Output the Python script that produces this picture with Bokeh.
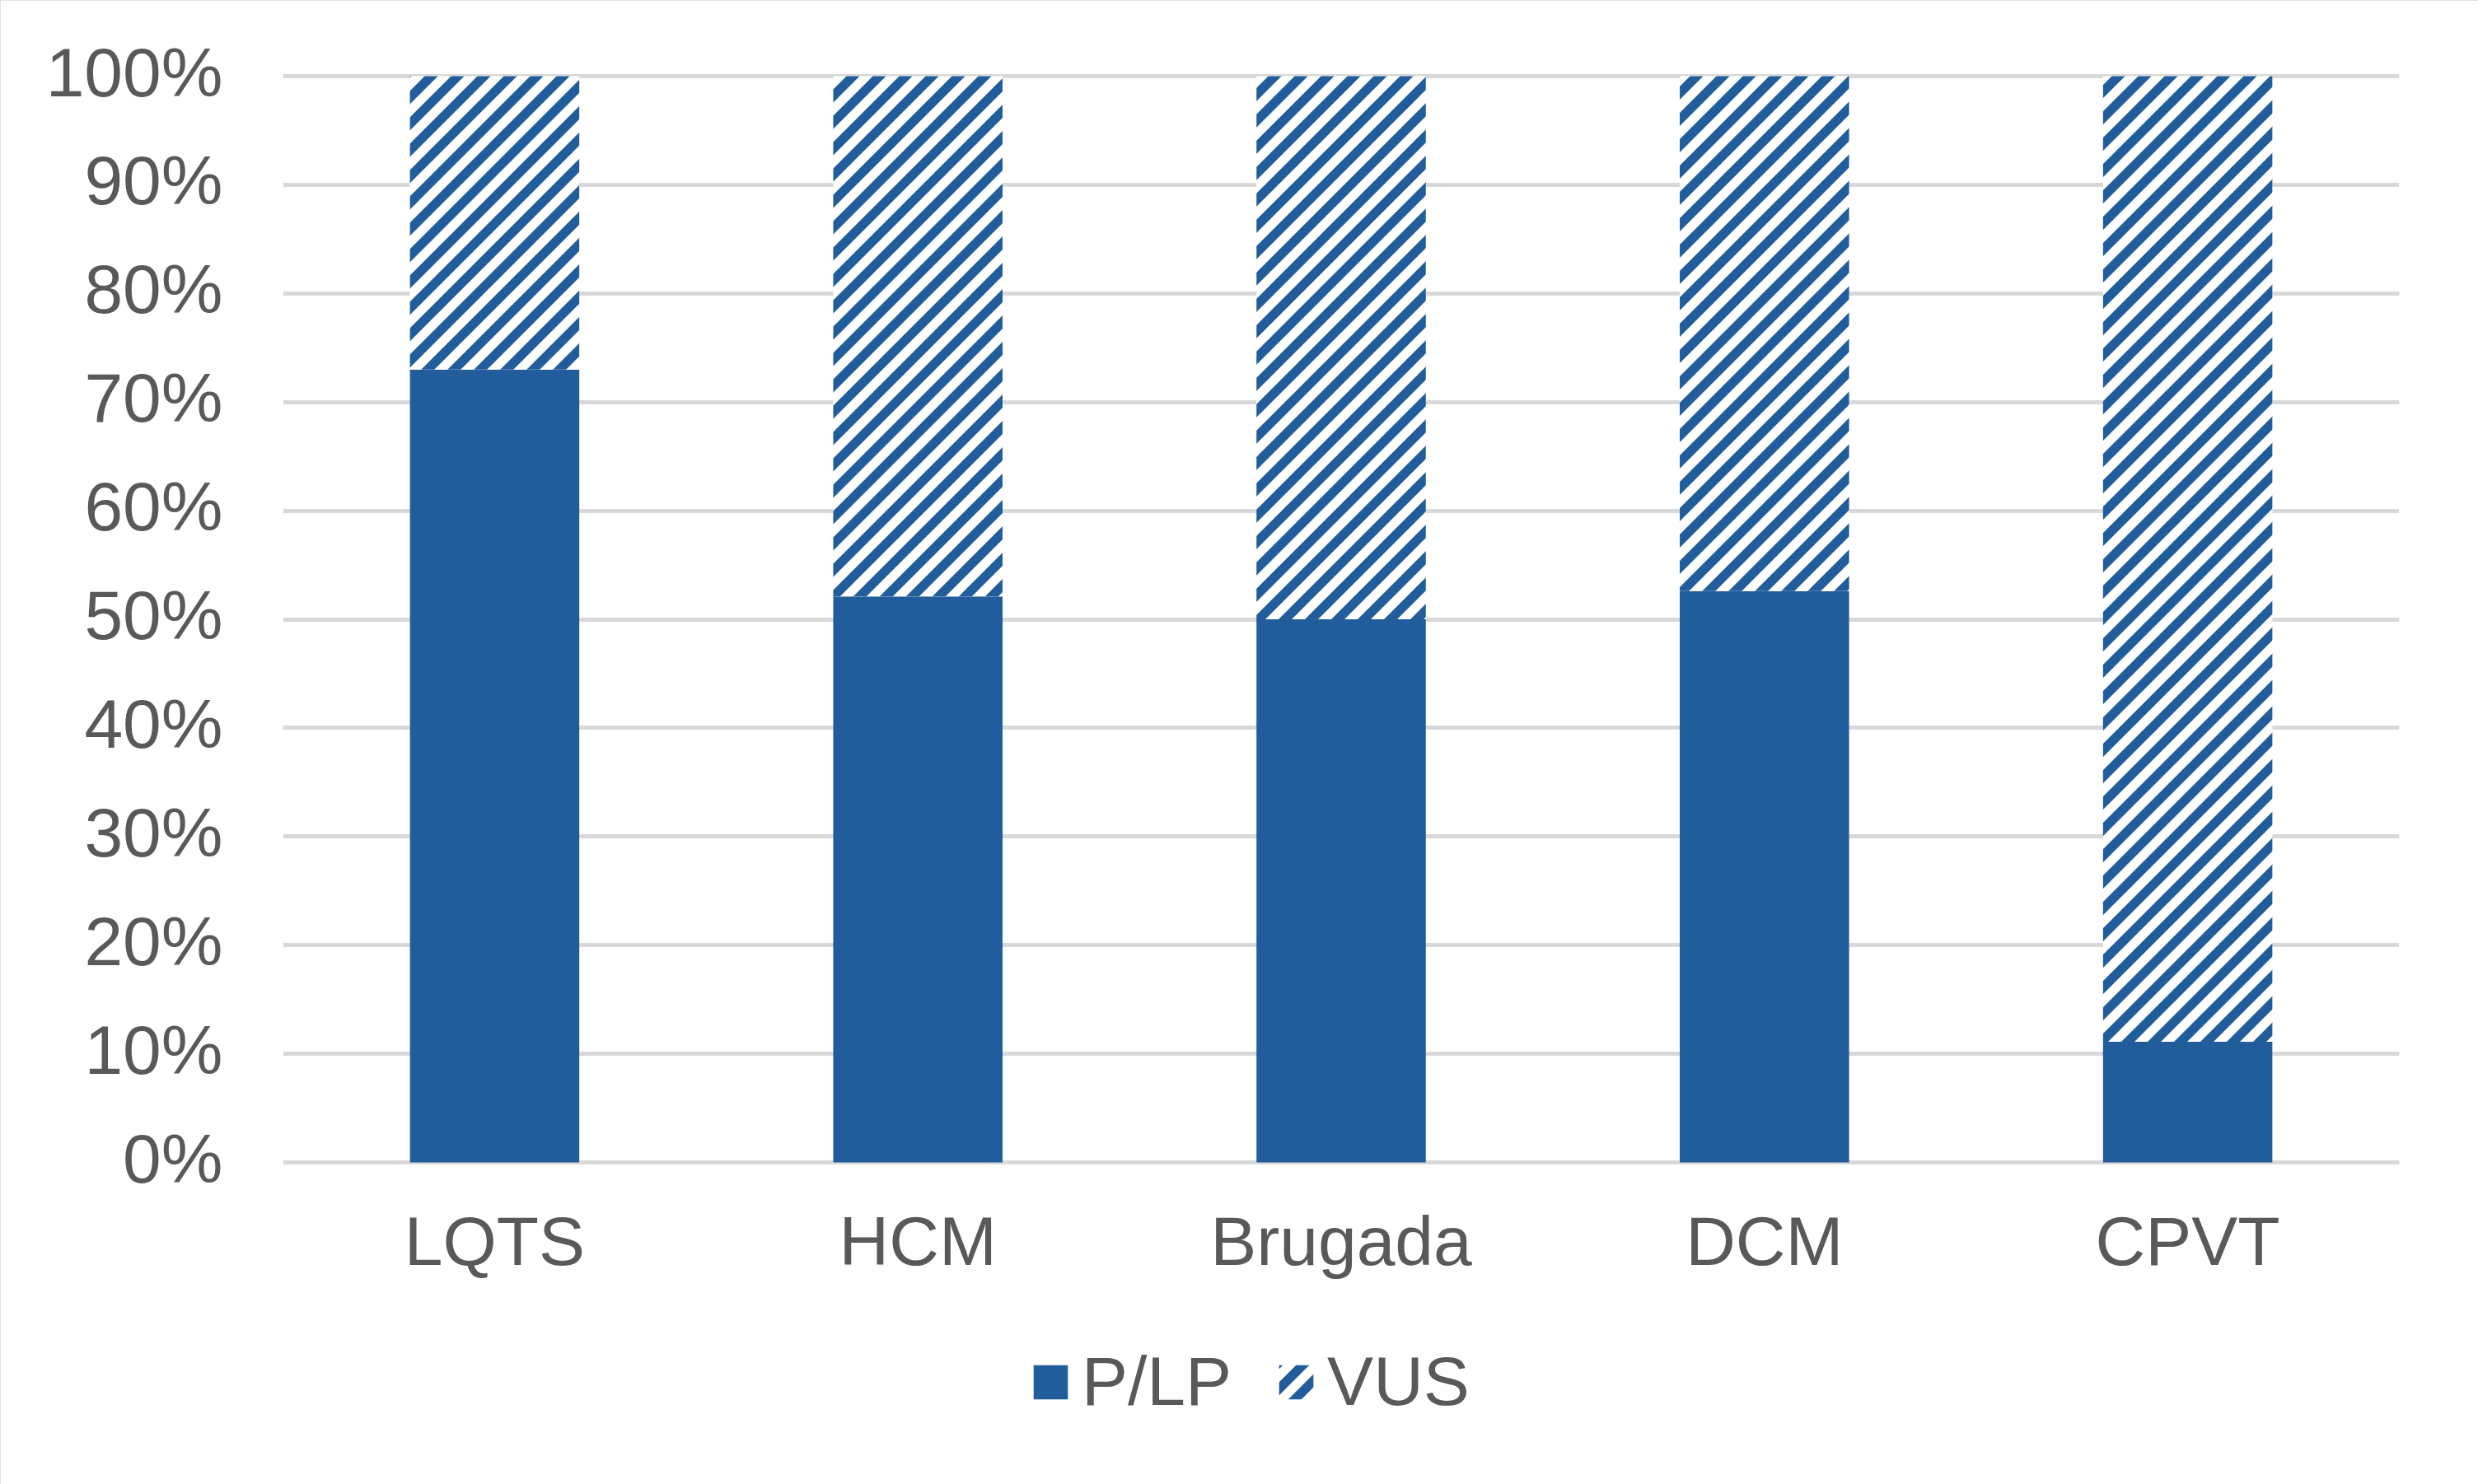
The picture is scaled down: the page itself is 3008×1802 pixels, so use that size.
import base64
from bokeh.plotting import figure
from bokeh.models import (ColumnDataSource, FactorRange, Range1d, FixedTicker,
                          NumeralTickFormatter, Legend, LegendItem, ImageURLTexture,
                          LinearAxis)
from bokeh.core.properties import value
from bokeh.embed import file_html
from bokeh.resources import INLINE

# ---- data ----
categories = ["LQTS", "HCM", "Brugada", "DCM", "CPVT"]
plp = [0.73, 0.521, 0.50, 0.526, 0.111]
vus = [0.27, 0.479, 0.50, 0.474, 0.889]
series_names = ["P/LP", "VUS"]
y_ticks = [0.0, 0.1, 0.2, 0.3, 0.4, 0.5, 0.6, 0.7, 0.8, 0.9, 1.0]

BLUE = "#215C9B"
GREY_TXT = "#595959"
GRID = "#D9D9D9"
FONT = "Liberation Sans"

# hatch name column (texture defined below) so the pattern is read as data
source = ColumnDataSource(data=dict(cat=categories, plp=plp, vus=vus,
                                    hpat=["updiag"] * len(categories)))

# wide upward diagonal stripes, 32 px tile (stripes half blue / half white)
T = 32
h = T // 2
svg_tile = (f'<svg xmlns="http://www.w3.org/2000/svg" width="{T}" height="{T}">'
            f'<path d="M0 0H{h}L0 {h}Z M0 {T}L{T} 0V{h}L{h} {T}Z" fill="{BLUE}"/></svg>')
img_tex = ImageURLTexture(url="data:image/svg+xml;base64," +
                          base64.b64encode(svg_tile.encode()).decode(),
                          repetition="repeat")

# ---- layout (pixels) ----
W, H = 3008, 1802
FL, FR = 343, 2912          # frame left / right
Y0, Y1 = 1411, 92           # pixel rows of 0% and 100%
px_per = float(Y0 - Y1)
f_top = 80
f_bot = 1794
y_hi = (Y0 - f_top) / px_per
y_lo = -(f_bot - Y0) / px_per

p = figure(width=W, height=H, x_range=FactorRange(*categories, range_padding=0),
           y_range=Range1d(y_lo, y_hi), output_backend="svg", toolbar_location=None,
           x_axis_location=None, y_axis_location=None,
           min_border_left=FL, min_border_right=W - FR,
           min_border_top=f_top, min_border_bottom=H - f_bot)
p.styles = {"outline": "5px solid #D9D9D9", "outline-offset": "-5px"}

rs = p.vbar_stack(["plp", "vus"], x="cat", width=0.4, source=source,
                  fill_color=[BLUE, "white"], line_color=None,
                  hatch_pattern=[" ", "hpat"], hatch_color=BLUE,
                  hatch_scale=32, hatch_extra={"updiag": img_tex})

p.outline_line_color = None
p.xgrid.visible = False
p.ygrid.grid_line_color = GRID
p.ygrid.grid_line_width = 5
p.ygrid.ticker = FixedTicker(ticks=y_ticks)

# tick labels sit a few pixels above their gridlines, as in the reference
d = 5 / px_per
p.extra_y_ranges = {"labels": Range1d(y_lo - d, y_hi - d)}
ax = LinearAxis(y_range_name="labels")
ax.ticker = FixedTicker(ticks=y_ticks)
ax.formatter = NumeralTickFormatter(format="0%")
ax.axis_line_color = None
ax.major_tick_line_color = None
ax.minor_tick_line_color = None
ax.major_tick_out = 0
ax.major_tick_in = 0
ax.minor_tick_out = 0
ax.major_label_text_font = FONT
ax.major_label_text_font_size = "84px"
ax.major_label_text_color = GREY_TXT
ax.major_label_standoff = 73
p.add_layout(ax, "left")

# category labels under the bars
label_y = -(1506 - Y0) / px_per
p.text(x=categories, y=[label_y] * len(categories), text=categories,
       text_align="center", text_baseline="alphabetic",
       text_font=value(FONT), text_font_size="84px", text_color=GREY_TXT)

legend = Legend(items=[LegendItem(label=series_names[0], renderers=[rs[0]]),
                       LegendItem(label=series_names[1], renderers=[rs[1]])],
                location=(1249 - FL, f_bot - 1726), orientation="horizontal",
                glyph_width=52, glyph_height=52,
                label_text_font=FONT, label_text_font_size="84px",
                label_text_color=GREY_TXT, label_standoff=12, spacing=52,
                padding=0, margin=0, border_line_color=None,
                background_fill_alpha=0)
p.add_layout(legend)

open("out.html", "w").write(file_html(p, INLINE))
